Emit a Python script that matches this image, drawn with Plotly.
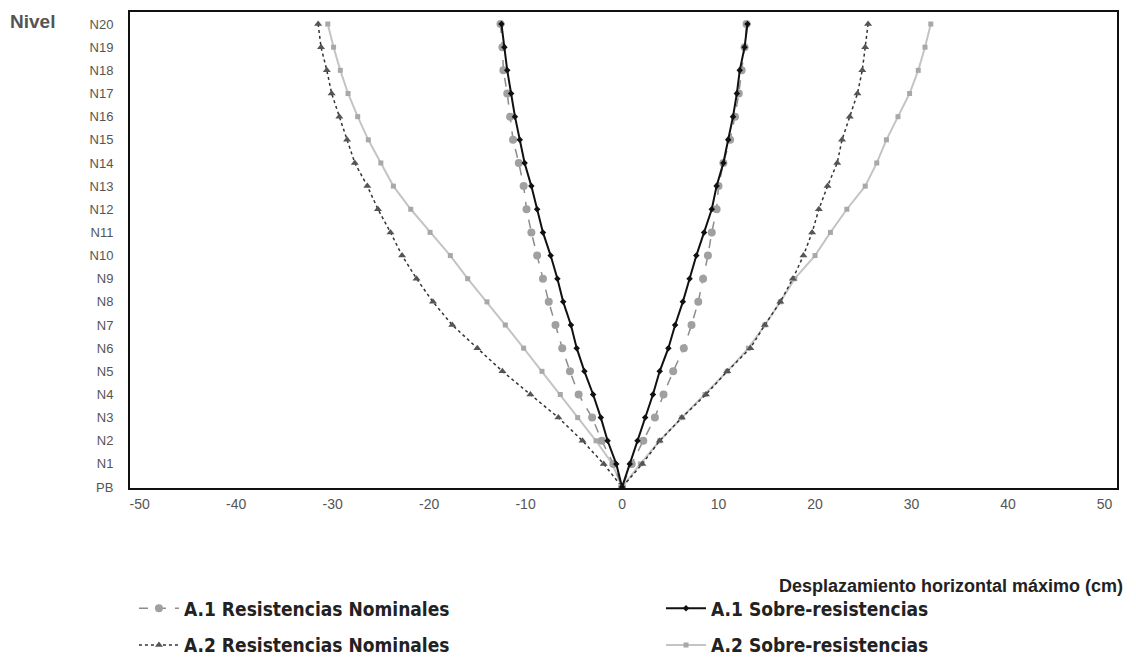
import plotly.graph_objects as go

levels = ["PB"] + [f"N{i}" for i in range(1, 21)]

# Values from PB up to N20 (cm)
a1_rn_neg = [0, -0.9, -2.1, -3.1, -4.5, -5.4, -6.2, -6.9, -7.6, -8.2, -8.8, -9.4, -9.9, -10.2, -10.7, -11.3, -11.6, -11.9, -12.3, -12.4, -12.6]
a1_rn_pos = [0, 1.0, 2.2, 3.4, 4.3, 5.3, 6.4, 7.2, 7.9, 8.4, 8.9, 9.3, 9.8, 10.0, 10.5, 11.2, 11.7, 12.1, 12.4, 12.7, 12.9]
a1_sr_neg = [0, -0.6, -1.5, -2.2, -3.0, -3.9, -4.7, -5.3, -6.1, -6.7, -7.4, -8.2, -8.8, -9.4, -10.1, -10.6, -11.1, -11.5, -11.9, -12.2, -12.5]
a1_sr_pos = [0, 0.8, 1.6, 2.4, 3.2, 3.9, 4.8, 5.5, 6.3, 7.0, 7.7, 8.5, 9.3, 9.8, 10.5, 11.0, 11.5, 11.9, 12.2, 12.7, 13.0]
a2_rn_neg = [0, -1.9, -4.1, -6.6, -9.5, -12.4, -15.0, -17.6, -19.6, -21.3, -22.8, -24.0, -25.3, -26.4, -27.7, -28.5, -29.3, -30.1, -30.6, -31.2, -31.5]
a2_rn_pos = [0, 2.1, 3.9, 6.2, 8.7, 10.9, 13.3, 14.8, 16.4, 17.7, 18.8, 19.7, 20.4, 21.3, 22.3, 22.8, 23.6, 24.4, 24.9, 25.2, 25.5]
a2_sr_neg = [0, -1.0, -2.7, -4.6, -6.4, -8.3, -10.2, -12.1, -14.0, -16.0, -17.8, -19.9, -21.9, -23.7, -25.0, -26.3, -27.4, -28.4, -29.2, -29.9, -30.5]
a2_sr_pos = [0, 1.9, 3.9, 6.2, 8.6, 10.9, 13.1, 14.8, 16.4, 17.9, 20.0, 21.6, 23.3, 25.2, 26.4, 27.4, 28.6, 29.8, 30.7, 31.4, 32.0]

x_ticks = [-50, -40, -30, -20, -10, 0, 10, 20, 30, 40, 50]

idx = list(range(len(levels)))


def profile(neg, pos):
    xs = list(reversed(neg)) + pos[1:]
    ys = list(reversed(idx)) + idx[1:]
    return xs, ys


fig = go.Figure()

# (name, neg, pos, line, marker, legend, group)
series = [
    ("A.2 Sobre-resistencias", a2_sr_neg, a2_sr_pos,
     dict(color="#c4c4c4", width=2, dash="solid"),
     dict(symbol="square", size=5, color="#a8a8a8"), "legend2", "g2b"),
    ("A.2 Resistencias Nominales", a2_rn_neg, a2_rn_pos,
     dict(color="#333333", width=1.5, dash="dot"),
     dict(symbol="triangle-up", size=7, color="#555555"), "legend", "g1b"),
    ("A.1 Resistencias Nominales", a1_rn_neg, a1_rn_pos,
     dict(color="#8c8c8c", width=1.5, dash="dash"),
     dict(symbol="circle", size=8, color="#a0a0a0"), "legend", "g1a"),
    ("A.1 Sobre-resistencias", a1_sr_neg, a1_sr_pos,
     dict(color="#111111", width=2, dash="solid"),
     dict(symbol="diamond", size=5, color="#111111"), "legend2", "g2a"),
]
legend_rank = {
    "A.1 Resistencias Nominales": 1,
    "A.1 Sobre-resistencias": 1,
    "A.2 Resistencias Nominales": 2,
    "A.2 Sobre-resistencias": 2,
}
for name, neg, pos, line, marker, leg, grp in series:
    xs, ys = profile(neg, pos)
    fig.add_trace(go.Scatter(x=xs, y=ys, mode="lines+markers", name=name,
                             line=line, marker=marker, legend=leg, legendgroup=grp,
                             legendrank=legend_rank[name]))

legend_font = dict(family="DejaVu Sans Condensed, Liberation Sans Narrow, Arial, sans-serif",
                   size=19, color="#222", weight="bold")
common_leg = dict(orientation="v", yanchor="top", xanchor="left", font=legend_font,
                  itemwidth=40, bgcolor="rgba(0,0,0,0)", tracegroupgap=9)

fig.update_layout(
    width=1120, height=649,
    margin=dict(l=122, r=11, t=4, b=169, autoexpand=False),
    paper_bgcolor="white", plot_bgcolor="white",
    font=dict(family="Liberation Sans, Arial, sans-serif", color="#444"),
    showlegend=True,
    legend=dict(x=0.004, y=-0.213, **common_leg),
    legend2=dict(x=0.538, y=-0.213, **common_leg),
    xaxis=dict(range=[-51, 51.3], tickmode="array", tickvals=x_ticks,
               ticktext=[str(v) for v in x_ticks],
               showgrid=False, zeroline=False, showline=True, linecolor="#111",
               linewidth=2, mirror=True, ticks="",
               tickfont=dict(size=14, color="#555"), ticklabelstandoff=2),
    yaxis=dict(range=[-0.04, 20.52], tickmode="array", tickvals=idx, ticktext=levels,
               showgrid=False, zeroline=False, showline=True, linecolor="#111",
               linewidth=2, mirror=True, ticks="",
               tickfont=dict(size=13, color="#555"), ticklabelstandoff=12),
    annotations=[
        dict(text="<b>Nivel</b>", xref="paper", yref="paper", x=-0.1236, y=0.979,
             xanchor="left", yanchor="middle", showarrow=False,
             font=dict(size=19, color="#555", family="Liberation Sans, Arial, sans-serif")),
        dict(text="<b>Desplazamiento horizontal máximo (cm)</b>", xref="paper", yref="paper",
             x=1.008, y=-0.206, xanchor="right", yanchor="middle", showarrow=False,
             font=dict(size=18, color="#222", family="Liberation Sans, Arial, sans-serif")),
    ],
)

fig.write_html("out.html")
